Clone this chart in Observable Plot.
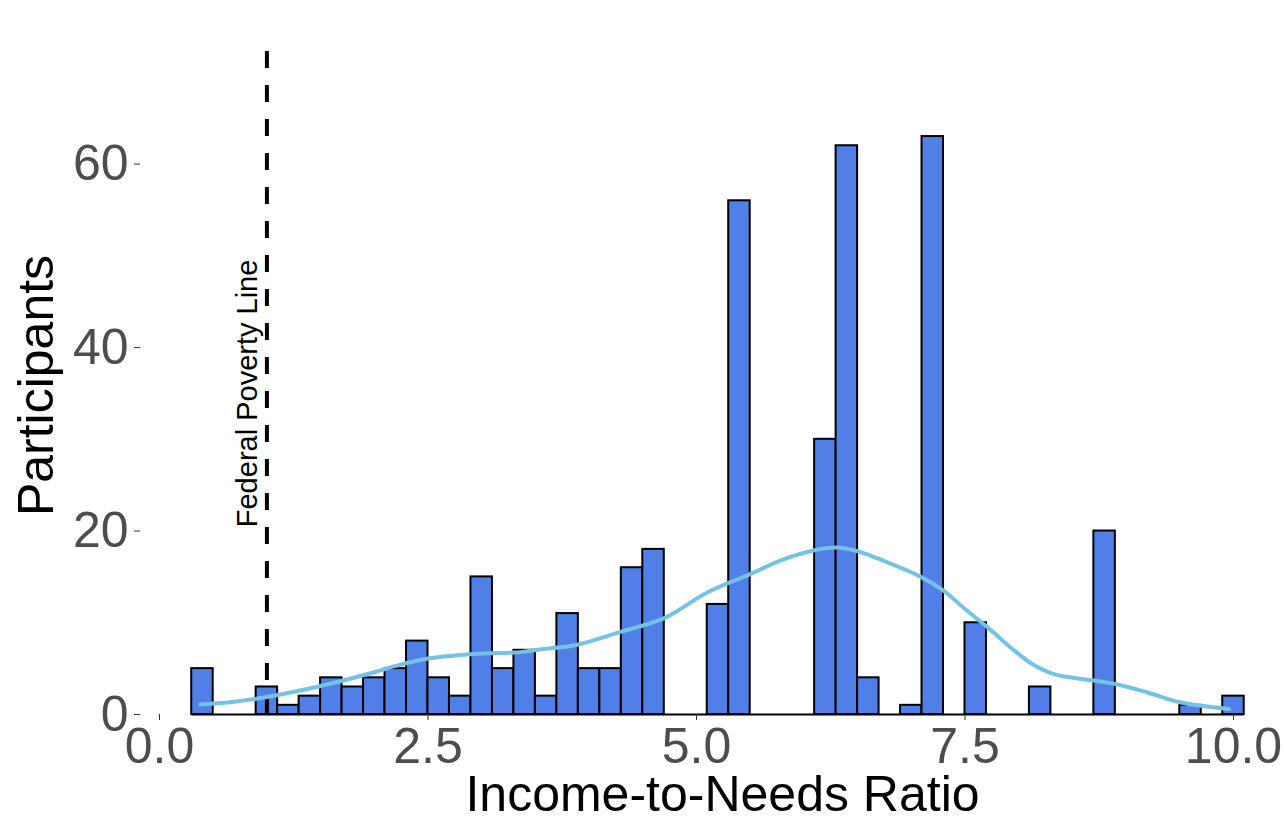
<!DOCTYPE html>
<html>
<head>
<meta charset="utf-8">
<script src="https://cdn.jsdelivr.net/npm/d3@7"></script>
<script src="https://cdn.jsdelivr.net/npm/@observablehq/plot@0.6"></script>
<style>
html, body { margin: 0; padding: 0; background: #ffffff; overflow: hidden; }
#chart svg { display: block; }
</style>
</head>
<body>
<div id="chart"></div>
<script>
// Histogram bin centers (bin width 0.2) and participant counts
const binCenters = [0.4, 0.6, 0.8, 1.0, 1.2, 1.4, 1.6, 1.8, 2.0, 2.2, 2.4, 2.6, 2.8, 3.0, 3.2, 3.4, 3.6, 3.8, 4.0, 4.2, 4.4, 4.6, 4.8, 5.0, 5.2, 5.4, 5.6, 5.8, 6.0, 6.2, 6.4, 6.6, 6.8, 7.0, 7.2, 7.4, 7.6, 7.8, 8.0, 8.2, 8.4, 8.6, 8.8, 9.0, 9.2, 9.4, 9.6, 9.8, 10.0];
const counts     = [5,   0,   0,   3,   1,   2,   4,   3,   4,   5,   8,   4,   2,   15,  5,   7,   2,   11,  5,   5,   16,  18,  0,   0,   12,  56,  0,   0,   0,   30,  62,  4,   0,   1,   63,  0,   10,  0,   0,   3,   0,   0,   20,  0,   0,   0,   1,   0,   2];
const binWidth = 0.2;

// Density curve (scaled to counts)
const densX = [0.38, 0.7, 1.0, 1.5, 2.0, 2.2, 2.5, 2.93, 3.36, 3.52, 3.89, 4.29, 4.70, 5.10, 5.50, 5.81, 6.10, 6.30, 6.50, 6.71, 7.09, 7.30, 7.50, 7.71, 8.10, 8.33, 8.70, 8.91, 9.20, 9.50, 9.96];
const densY = [1.1,  1.4, 1.9, 3.1, 4.6, 5.3, 6.1, 6.6,  6.8,  7.05, 7.6,  9.0,  10.5, 13.3, 15.3, 16.9, 17.9, 18.2, 17.8, 16.9, 15.0, 13.5, 11.5, 9.5,  5.7,  4.4,  3.7,  3.3,  2.4,  1.34, 0.6];

const povertyLine = 1;
const povertyLabel = "Federal Poverty Line";
const xTicks = [0, 2.5, 5, 7.5, 10];
const yTicks = [0, 20, 40, 60];
const xTitle = "Income-to-Needs Ratio";
const yTitle = "Participants";
const yMax = 72.6;

const bins = binCenters.map((c, i) => ({x1: c - binWidth / 2, x2: c + binWidth / 2, count: counts[i]}));
const dens = densX.map((x, i) => ({x, y: densY[i]}));

const plot = Plot.plot({
  width: 1284,
  height: 818,
  marginLeft: 140,
  marginRight: 0,
  marginTop: 48,
  marginBottom: 104,
  style: {fontFamily: "'Liberation Sans', Arial, Helvetica, sans-serif", background: "#ffffff"},
  x: {domain: [-0.177, 10.475]},
  y: {domain: [0, yMax]},
  marks: [
    Plot.rectY(bins.filter(d => d.count > 0), {x1: "x1", x2: "x2", y: "count", fill: "#4F7FE7", stroke: "#000000", strokeWidth: 2}),
    Plot.ruleY([0], {x1: bins[0].x1, x2: bins[bins.length - 1].x2, stroke: "#000000", strokeWidth: 2}),
    Plot.ruleX([povertyLine], {y1: 0, y2: yMax, stroke: "#000000", strokeWidth: 4, strokeDasharray: "17,17"}),
    Plot.line(dens, {x: "x", y: "y", stroke: "#74C3E6", strokeWidth: 4, curve: "catmull-rom"}),
    Plot.text([povertyLabel], {x: povertyLine, y: 35, rotate: -90, dx: -19, fontSize: 29, fill: "#000000"}),
    Plot.axisX({ticks: xTicks, tickFormat: d3.format(".1f"), tickSize: 6, tickPadding: 7, fontSize: 50, fill: "#4D4D4D", stroke: "#333333", label: null}),
    Plot.axisY({ticks: yTicks, tickSize: 6, tickPadding: 6, fontSize: 50, fill: "#4D4D4D", stroke: "#333333", label: null}),
    Plot.text([xTitle], {frameAnchor: "bottom", lineAnchor: "middle", textAnchor: "middle", dy: 80, dx: 10, fontSize: 50, fill: "#000000"}),
    Plot.text([yTitle], {frameAnchor: "left", lineAnchor: "middle", textAnchor: "middle", rotate: -90, dx: -104, dy: 4, fontSize: 50, fill: "#000000"})
  ]
});

document.getElementById("chart").appendChild(plot);
</script>
</body>
</html>
